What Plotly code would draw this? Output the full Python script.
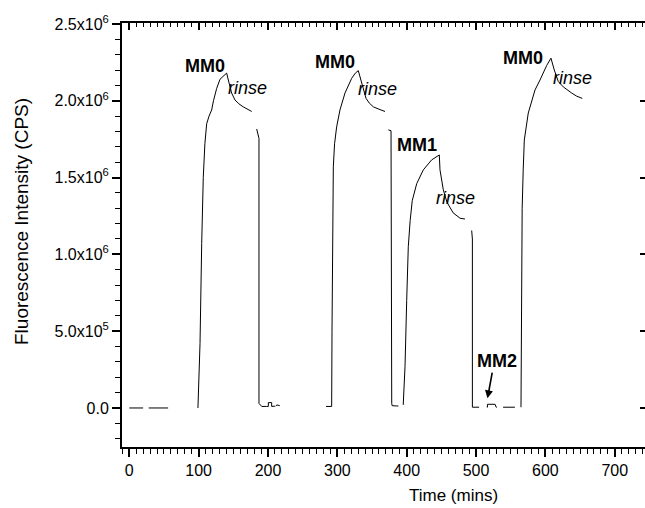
import plotly.graph_objects as go

# ---- data (time in mins, intensity in 1e6 CPS); None separates recorded segments ----
time_mins = [
    0, 20, None,
    28, 56, None,
    99, 102, 104.4, 106.7, 109, 111.6, 115, 118.8, 121.4, 126, 130.8, 136.6, 140.4,
    142.8, 147.6, 152.4, 158, 164.4, 170, 176.5, None,
    183.7, 187, 187, 191, 198, 200.5, 200.5, 205.3, 205.3, 206.8, 210, None,
    211, 213, 217, None,
    283.6, 291.8, 292.3, 292.8, 294.2, 296, 299, 303.8, 311, 320.7, 326, 330.2,
    335, 341.3, 346, 352, 360, 368.7, None,
    373.5, 377.4, 378.4, 379, 385.6, 388, None,
    395, 397.6, 400, 402.3, 405, 408, 414.4, 424, 436, 447,
    448, 452.8, 458, 467, 477, 484, None,
    493.7, 494.7, 494.7, 504.4, None,
    515.5, 516.4, 516.4, 527.4, 529, 530, None,
    539, 556, None,
    564.8, 565.5, 566.5, 568, 569.6, 575.3, 585, 592.2, 601.9, 608,
    612.8, 618.6, 625.8, 637.9, 645, 653.2,
]
intensity_1e6 = [
    0, 0, None,
    0, 0, None,
    0, 0.42, 1.07, 1.5, 1.72, 1.85, 1.9, 1.94, 2.0, 2.08, 2.14, 2.168, 2.18,
    2.135, 2.05, 2.005, 1.98, 1.96, 1.945, 1.93, None,
    1.816, 1.755, 0.03, 0.01, 0.01, 0.01, 0.035, 0.035, 0.01, 0.01, 0.012, None,
    0.012, 0.02, 0.015, None,
    0.01, 0.01, 0.5, 1.14, 1.57, 1.72, 1.83, 1.94, 2.05, 2.146, 2.18, 2.196,
    2.114, 2.016, 1.985, 1.96, 1.945, 1.93, None,
    1.81, 1.805, 0.03, 0.015, 0.013, 0.013, None,
    0.02, 0.27, 0.7, 1.05, 1.22, 1.35, 1.46, 1.55, 1.615, 1.647,
    1.55, 1.42, 1.34, 1.27, 1.235, 1.23, None,
    1.155, 1.1, 0.005, 0.005, None,
    0.005, 0.005, 0.024, 0.024, 0.005, 0.005, None,
    0.005, 0.005, None,
    0.005, 0.8, 1.3, 1.55, 1.745, 1.92, 2.07, 2.135, 2.23, 2.277,
    2.2, 2.125, 2.09, 2.05, 2.03, 2.015,
]

y_tick_vals = [0, 0.5e6, 1.0e6, 1.5e6, 2.0e6, 2.5e6]
y_tick_text = ["0.0", "5.0x10<sup>5</sup>", "1.0x10<sup>6</sup>", "1.5x10<sup>6</sup>",
               "2.0x10<sup>6</sup>", "2.5x10<sup>6</sup>"]
x_tick_vals = [0, 100, 200, 300, 400, 500, 600, 700]

# labels: (text, x, y in 1e6, style)
label_text = ["MM0", "rinse", "MM0", "rinse", "MM1", "rinse", "MM2", "MM0", "rinse"]
label_x = [109.5, 170, 296.6, 358.2, 414.9, 471, 529.8, 567.7, 639]
label_y = [2.226, 2.083, 2.255, 2.077, 1.712, 1.370, 0.306, 2.277, 2.147]
label_bold = [True, False, True, False, True, False, True, True, False]

arrow_tip = (516.5, 0.063)
arrow_tail = (523.7, 0.24)

FONT = "Arial, Liberation Sans, sans-serif"
X_RANGE = [-10.5, 743.6]
Y_RANGE = [-0.254e6, 2.506e6]

fig = go.Figure()
fig.add_trace(go.Scatter(
    x=time_mins,
    y=[None if v is None else v * 1e6 for v in intensity_1e6],
    mode="lines", line=dict(color="black", width=1), connectgaps=False,
    showlegend=False, hoverinfo="skip",
))
# invisible helper traces so the mirrored top/right axes get drawn
fig.add_trace(go.Scatter(x=[None], y=[None], xaxis="x2", yaxis="y", showlegend=False))
fig.add_trace(go.Scatter(x=[None], y=[None], xaxis="x", yaxis="y2", showlegend=False))

annotations = []
for t, x, y, b in zip(label_text, label_x, label_y, label_bold):
    annotations.append(dict(
        x=x, y=y * 1e6, xref="x", yref="y", showarrow=False,
        text=f"<b>{t}</b>" if b else f"<i>{t}</i>",
        font=dict(family=FONT, size=18, color="black"),
    ))
annotations.append(dict(
    x=arrow_tip[0], y=arrow_tip[1] * 1e6, ax=arrow_tail[0], ay=arrow_tail[1] * 1e6,
    xref="x", yref="y", axref="x", ayref="y", text="", showarrow=True,
    arrowhead=2, arrowsize=1, arrowwidth=1.6, arrowcolor="black",
))
annotations.append(dict(
    text="Time (mins)", xref="paper", yref="paper", x=(453 - 122) / 523, y=0,
    xanchor="center", yanchor="middle", yshift=-48, showarrow=False,
    font=dict(family=FONT, size=17, color="black"),
))
annotations.append(dict(
    text="Fluorescence Intensity (CPS)", xref="paper", yref="paper",
    x=0, xshift=-101, xanchor="center", yanchor="middle",
    y=(447 - 222) / 424, textangle=-90, showarrow=False,
    font=dict(family=FONT, size=19, color="black"),
))

fig.update_layout(
    width=645, height=508,
    margin=dict(l=122, r=0, t=23, b=61),
    paper_bgcolor="white", plot_bgcolor="white",
    font=dict(family=FONT, size=16, color="black"),
    annotations=annotations,
    xaxis=dict(
        range=X_RANGE, showgrid=False, zeroline=False,
        showline=True, linecolor="black", linewidth=2,
        tickmode="array", tickvals=x_tick_vals,
        ticks="outside", ticklen=8, tickwidth=1.5, tickcolor="black",
        tickfont=dict(family=FONT, size=16),
        minor=dict(tick0=0, dtick=10, ticks="outside", ticklen=5, tickwidth=1, tickcolor="black"),
    ),
    xaxis2=dict(
        range=X_RANGE, overlaying="x", side="top", anchor="y",
        showgrid=False, zeroline=False, showticklabels=False,
        showline=True, linecolor="black", linewidth=1.5,
        tickmode="array", tickvals=x_tick_vals,
        ticks="inside", ticklen=7, tickwidth=1.5, tickcolor="black",
        minor=dict(tick0=0, dtick=10, ticks="inside", ticklen=4, tickwidth=1, tickcolor="black"),
    ),
    yaxis=dict(
        range=Y_RANGE, showgrid=False, zeroline=False,
        showline=True, linecolor="black", linewidth=2,
        tickmode="array", tickvals=y_tick_vals, ticktext=y_tick_text,
        ticks="outside", ticklen=8, tickwidth=1.5, tickcolor="black",
        tickfont=dict(family=FONT, size=16),
        minor=dict(tick0=0, dtick=1e5, ticks="outside", ticklen=5, tickwidth=1, tickcolor="black"),
    ),
    yaxis2=dict(
        range=Y_RANGE, overlaying="y", side="right", anchor="x",
        showgrid=False, zeroline=False, showticklabels=False, showline=False,
        tickmode="array", tickvals=y_tick_vals,
        ticks="inside", ticklen=5, tickwidth=1.5, tickcolor="black",
    ),
)

fig.write_html("out.html")
